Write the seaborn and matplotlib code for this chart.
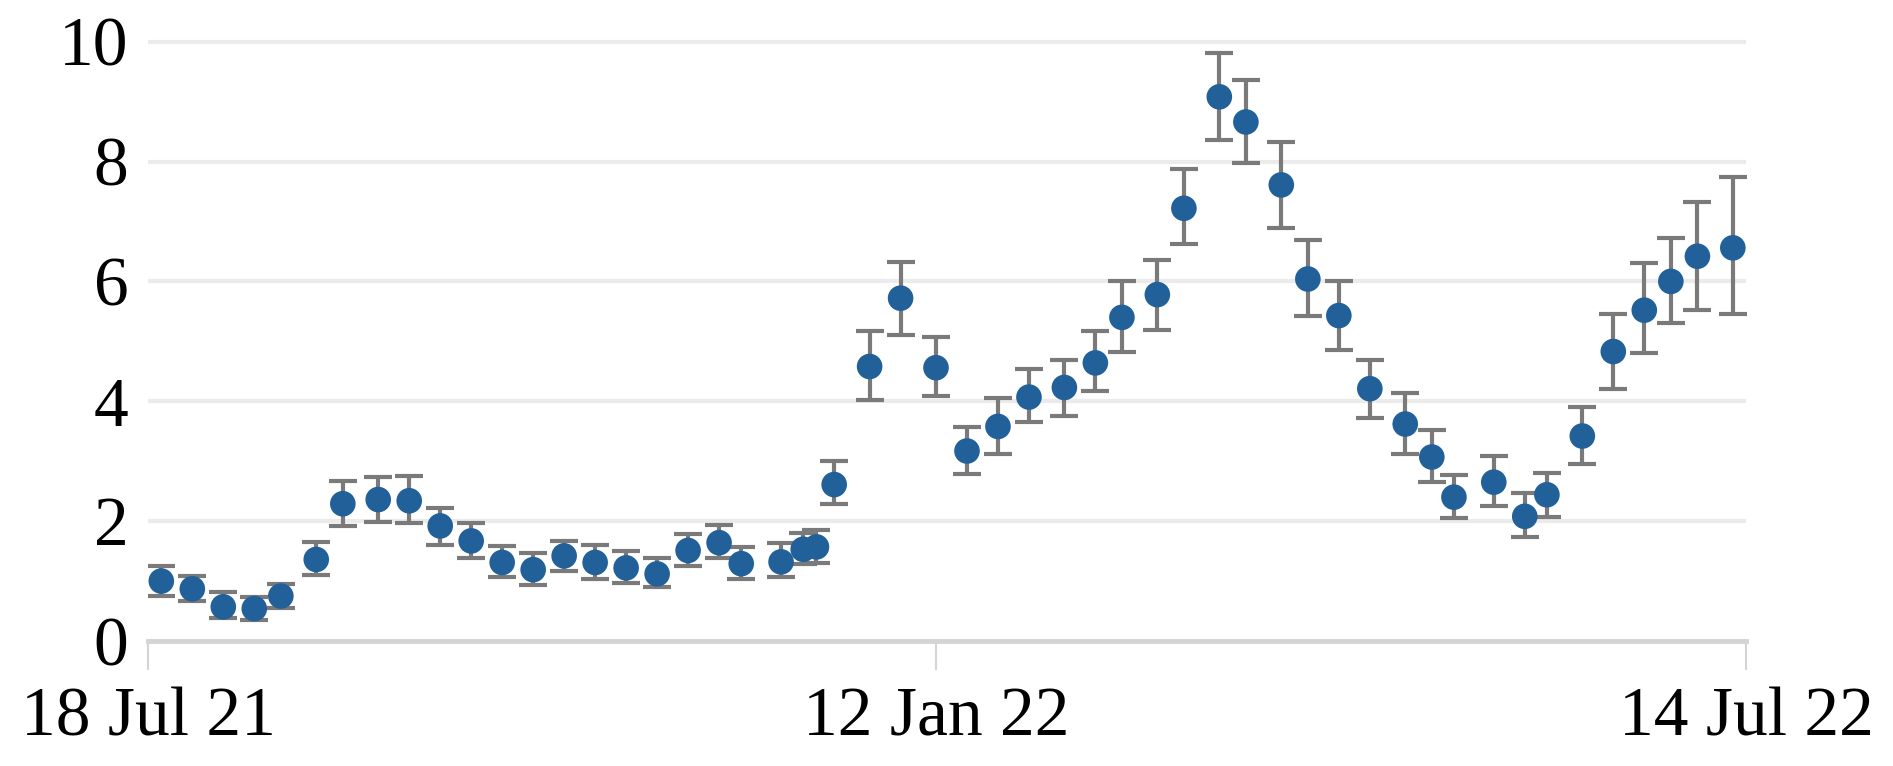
import pandas as pd
import matplotlib.pyplot as plt
import seaborn as sns

# weekly estimate with lower / upper bounds
dates = ['2021-07-21', '2021-07-28', '2021-08-04', '2021-08-11', '2021-08-17', '2021-08-25',
         '2021-08-31', '2021-09-08', '2021-09-15', '2021-09-22', '2021-09-29', '2021-10-06',
         '2021-10-13', '2021-10-20', '2021-10-27', '2021-11-03', '2021-11-10', '2021-11-17',
         '2021-11-24', '2021-11-29', '2021-12-08', '2021-12-13', '2021-12-16', '2021-12-20',
         '2021-12-28', '2022-01-04', '2022-01-12', '2022-01-19', '2022-01-26', '2022-02-02',
         '2022-02-10', '2022-02-17', '2022-02-23', '2022-03-03', '2022-03-09', '2022-03-17',
         '2022-03-23', '2022-03-31', '2022-04-06', '2022-04-13', '2022-04-20', '2022-04-28',
         '2022-05-04', '2022-05-09', '2022-05-18', '2022-05-25', '2022-05-30', '2022-06-07',
         '2022-06-14', '2022-06-21', '2022-06-27', '2022-07-03', '2022-07-11']
estimate = [1.00, 0.87, 0.57, 0.54, 0.75, 1.36, 2.29, 2.36, 2.34, 1.92, 1.67, 1.31,
            1.19, 1.42, 1.31, 1.22, 1.12, 1.51, 1.64, 1.29, 1.32, 1.53, 1.57, 2.61,
            4.58, 5.72, 4.56, 3.17, 3.58, 4.07, 4.23, 4.64, 5.40, 5.78, 7.22, 9.08,
            8.66, 7.61, 6.04, 5.43, 4.21, 3.62, 3.07, 2.40, 2.65, 2.08, 2.44, 3.42,
            4.83, 5.52, 6.00, 6.42, 6.56]
upper = [1.25, 1.08, 0.82, 0.73, 0.95, 1.65, 2.67, 2.73, 2.75, 2.22, 1.97, 1.58,
         1.46, 1.67, 1.61, 1.50, 1.38, 1.79, 1.94, 1.57, 1.64, 1.80, 1.86, 3.00,
         5.17, 6.33, 5.07, 3.57, 4.06, 4.54, 4.69, 5.18, 6.00, 6.36, 7.88, 9.81,
         9.36, 8.33, 6.69, 6.00, 4.69, 4.14, 3.52, 2.77, 3.09, 2.47, 2.81, 3.91,
         5.45, 6.30, 6.73, 7.33, 7.74]
lower = [0.75, 0.67, 0.38, 0.35, 0.55, 1.10, 1.92, 1.98, 1.97, 1.60, 1.39, 1.06,
         0.94, 1.17, 1.04, 0.97, 0.90, 1.25, 1.38, 1.04, 1.06, 1.28, 1.30, 2.29,
         4.02, 5.11, 4.08, 2.79, 3.12, 3.66, 3.75, 4.17, 4.83, 5.19, 6.62, 8.36,
         7.97, 6.89, 5.42, 4.86, 3.72, 3.12, 2.66, 2.06, 2.25, 1.73, 2.07, 2.96,
         4.20, 4.81, 5.31, 5.53, 5.45]

tick_dates = ['2021-07-18', '2022-01-12', '2022-07-14']
tick_labels = ['18 Jul 21', '12 Jan 22', '14 Jul 22']
y_ticks = [0, 2, 4, 6, 8, 10]

df = pd.DataFrame({'date': pd.to_datetime(dates), 'est': estimate,
                   'lo': lower, 'hi': upper})

sns.set_style('white')
plt.rcParams['font.family'] = ['Liberation Serif', 'DejaVu Serif']

fig = plt.figure(figsize=(18.93, 7.66), dpi=100)
ax = fig.add_axes([0.0782, 0.1632, 0.8442, 0.7863])

ax.errorbar(df['date'], df['est'], yerr=[df['est'] - df['lo'], df['hi'] - df['est']],
            fmt='none', ecolor='#7a7a7a', elinewidth=3, capsize=10, capthick=3, zorder=2)
sns.scatterplot(data=df, x='date', y='est', ax=ax, color='#22609a', s=340,
                edgecolor='none', zorder=3)

ax.set_xlim(pd.Timestamp(tick_dates[0]), pd.Timestamp(tick_dates[-1]))
ax.set_ylim(0, 10.05)
ax.set_xticks(pd.to_datetime(tick_dates))
ax.set_xticklabels(tick_labels)
ax.set_yticks(y_ticks)
ax.set_yticklabels([str(v) for v in y_ticks])

ax.grid(axis='y', color='#ebebeb', linewidth=3)
ax.set_axisbelow(True)
for s in ['top', 'right', 'left']:
    ax.spines[s].set_visible(False)
ax.spines['bottom'].set_color('#d4d4d4')
ax.spines['bottom'].set_linewidth(3.5)

ax.tick_params(axis='x', bottom=True, direction='out', length=21, width=1.5,
               color='#d4d4d4', labelsize=50, labelcolor='black', pad=12)
ax.tick_params(axis='y', left=False, length=0, labelsize=50, labelcolor='black', pad=14)
ax.set_xlabel('')
ax.set_ylabel('')

plt.savefig('out.png', dpi=100)
